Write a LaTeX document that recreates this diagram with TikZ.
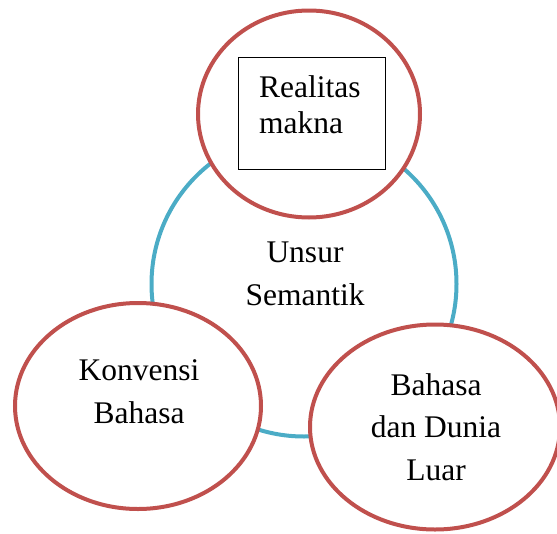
\documentclass[tikz,border=0pt]{standalone}
\usepackage{fontspec}
\setmainfont{Liberation Serif}
\usepackage{tikz}
\usetikzlibrary{shapes,positioning}
\definecolor{semblue}{HTML}{4BACC6}
\definecolor{semred}{HTML}{C0504D}

\begin{document}
\begin{tikzpicture}[x=1pt,y=-1pt,
intinode/.style={circle, draw=semblue, line width=4pt, minimum size=305pt, inner sep=0pt},
unsurnode/.style={ellipse, draw=semred, fill=white, line width=4pt, inner sep=0pt},
kotaknode/.style={rectangle, draw=black, line width=0.9pt, minimum width=147pt, minimum height=112pt},
teksnode/.style={anchor=base, align=center, inner sep=0pt, font=\fontsize{31.5}{43}\selectfont}
]
\useasboundingbox (0,0) rectangle (557,533);
% Centre circle
\node[intinode]        (inti)      at (304,284)   {};
% Three elements
%Nodes
\node[unsurnode, minimum width=222pt, minimum height=207pt]  (realitas)  at (309,114)  {};
\node[unsurnode, minimum width=246pt, minimum height=206pt]  (konvensi)  at (138,406)  {};
\node[unsurnode, minimum width=250pt, minimum height=205pt]  (dunia)     at (435,427)  {};
\node[kotaknode]       (kotak)     at (311.5,113) {};
%Texts (anchored at the last baseline)
\node[teksnode]        (tinti)     at (305,305)   {Unsur\\Semantik};
\node[teksnode]        (tkonvensi) at (139,423)   {Konvensi\\Bahasa};
\node[teksnode, font=\fontsize{31.5}{42.5}\selectfont] (tdunia) at (436,480) {Bahasa\\dan Dunia\\Luar};
\node[teksnode, anchor=base west, align=left, font=\fontsize{31.5}{36}\selectfont] (trealitas) at (259,133) {Realitas\\makna};
\end{tikzpicture}
\end{document}
